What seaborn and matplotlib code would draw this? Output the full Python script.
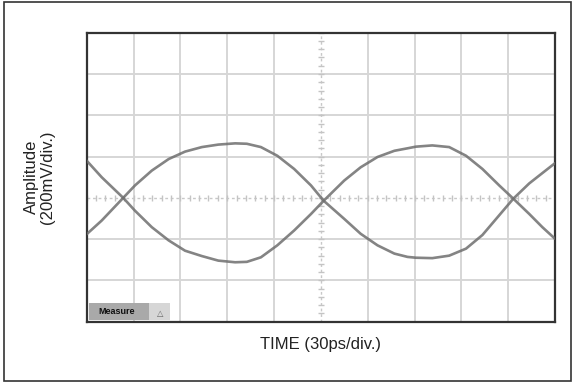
import numpy as np
import pandas as pd
import matplotlib
matplotlib.use("Agg")
import matplotlib.pyplot as plt
from matplotlib.patches import Rectangle
import seaborn as sns

# Eye-diagram traces, in screen divisions (x: 30 ps/div, y: 200 mV/div)
trace_x = [-5.00, -4.68, -4.22, -3.97, -3.61, -3.25, -2.90, -2.54, -2.19, -1.83, -1.58, -1.28,
           -0.93, -0.57, -0.21, 0.06, 0.50, 0.85, 1.21, 1.57, 1.85, 2.03, 2.38, 2.74, 3.10,
           3.45, 3.81, 4.11, 4.45, 4.73, 5.00]
trace_a_y = [0.90, 0.50, 0.00, -0.31, -0.71, -1.03, -1.28, -1.41, -1.52, -1.56, -1.55, -1.44,
             -1.15, -0.79, -0.39, -0.07, 0.42, 0.74, 0.99, 1.14, 1.20, 1.24, 1.27, 1.23, 1.02,
             0.70, 0.30, -0.02, -0.39, -0.71, -0.99]
trace_b_y = [-0.88, -0.55, 0.00, 0.30, 0.66, 0.94, 1.12, 1.23, 1.29, 1.32, 1.31, 1.23,
             1.02, 0.70, 0.30, -0.07, -0.51, -0.87, -1.15, -1.35, -1.43, -1.45, -1.46, -1.40, -1.23,
             -0.90, -0.42, -0.02, 0.35, 0.60, 0.84]

x_label = "TIME (30ps/div.)"
y_label = "Amplitude\n(200mV/div.)"
button_label = "Measure"

df = pd.concat([
    pd.DataFrame({"t": trace_x, "v": trace_a_y, "trace": "A"}),
    pd.DataFrame({"t": trace_x, "v": trace_b_y, "trace": "B"}),
])

sns.set_style("white")
plt.rcParams["font.family"] = ["Liberation Sans", "DejaVu Sans"]

fig = plt.figure(figsize=(5.73, 3.83), dpi=100)
ax = fig.add_axes([0.1513, 0.160, 0.8173, 0.7546])

# grid
for gx in np.arange(-4, 5, 1):
    if gx != 0:
        ax.axvline(gx, color="#d6d6d6", lw=1.4, zorder=0)
for gy in np.arange(-2, 4, 1):
    if gy != 0:
        ax.axhline(gy, color="#d6d6d6", lw=1.4, zorder=0)
# centre graticule with minor ticks
ax.axhline(0, color="#c8c8c8", lw=1.0, ls=(0, (2, 2)), zorder=0)
ax.axvline(0, color="#c8c8c8", lw=1.0, ls=(0, (2, 2)), zorder=0)
mt = np.arange(-5, 5.01, 0.2)
ax.plot(mt, np.zeros_like(mt), ls="none", marker="|", ms=5, mew=1.0, color="#c4c4c4", zorder=0)
mv = np.arange(-3, 4.01, 0.2)
ax.plot(np.zeros_like(mv), mv, ls="none", marker="_", ms=5, mew=1.0, color="#c4c4c4", zorder=0)

sns.lineplot(data=df, x="t", y="v", hue="trace", estimator=None, sort=False,
             palette=["#6e6e6e", "#6e6e6e"], lw=1.9, legend=False, ax=ax, zorder=3, alpha=0.85)

ax.set_xlim(-5, 5)
ax.set_ylim(-3, 4)
ax.set_xticks([])
ax.set_yticks([])
ax.set_xlabel(x_label, fontsize=12, color="#222222", labelpad=11)
ax.set_ylabel(y_label, fontsize=12, color="#222222", labelpad=23, linespacing=1.1)
for s in ax.spines.values():
    s.set_color("#333333")
    s.set_linewidth(1.6)

# "Measure" button in the lower left corner
ax.add_patch(Rectangle((0.004, 0.006), 0.130, 0.058, transform=ax.transAxes,
                       facecolor="#a9a9a9", edgecolor="none", zorder=4))
ax.add_patch(Rectangle((0.134, 0.006), 0.044, 0.058, transform=ax.transAxes,
                       facecolor="#d6d6d6", edgecolor="none", zorder=4))
ax.text(0.025, 0.035, button_label, transform=ax.transAxes, fontsize=6.5, fontweight="bold",
        color="#111111", va="center", ha="left", zorder=5)
ax.text(0.156, 0.030, "\u25b3", transform=ax.transAxes, fontsize=6, color="#666666",
        va="center", ha="center", zorder=5, family=["DejaVu Sans"])

# outer frame
fig.patches.append(Rectangle((4 / 573, 2 / 383), 567 / 573, 379 / 383, transform=fig.transFigure,
                             fill=False, edgecolor="#333333", lw=1.2))

fig.savefig("out.png", dpi=100, facecolor="white")
